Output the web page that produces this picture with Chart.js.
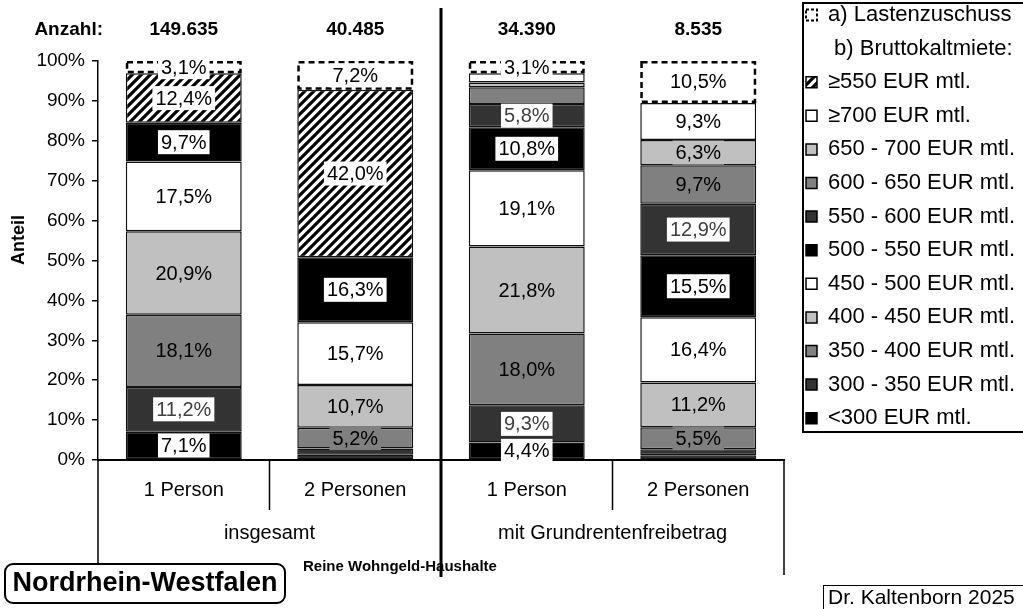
<!DOCTYPE html>
<html><head><meta charset="utf-8">
<script src="https://cdn.jsdelivr.net/npm/chart.js@4.4.1/dist/chart.umd.min.js"></script>
<style>html,body{margin:0;padding:0;background:#fff;overflow:hidden}</style>
</head><body>
<canvas id="c" width="1023" height="609"></canvas>
<script>
// ---------- data ----------
const categories = ['1 Person', '2 Personen', '1 Person', '2 Personen'];
const groups = ['insgesamt', 'mit Grundrentenfreibetrag'];
const counts = ['149.635', '40.485', '34.390', '8.535'];
const yTickValues = [0, 10, 20, 30, 40, 50, 60, 70, 80, 90, 100];

const rentLt300   = [7.1, 1.3, 4.4, 1.2];
const rent300_350 = [11.2, 1.6, 9.3, 1.5];
const rent350_400 = [18.1, 5.2, 18.0, 5.5];
const rent400_450 = [20.9, 10.7, 21.8, 11.2];
const rent450_500 = [17.5, 15.7, 19.1, 16.4];
const rent500_550 = [9.7, 16.3, 10.8, 15.5];
const rent550_600 = [null, null, 5.8, 12.9];
const rent600_650 = [null, null, 4.2, 9.7];
const rent650_700 = [null, null, 1.2, 6.3];
const rentGe700   = [null, null, 2.3, 9.3];
const rentGe550   = [12.4, 42.0, null, null];
const lastenzuschuss = [3.1, 7.2, 3.1, 10.5];

// ---------- styles ----------
const FONT = '"Liberation Sans", Arial, sans-serif';
const BLACK = '#000000', DARK = '#333333', MID = '#808080', LIGHT = '#c0c0c0', WHITE = '#ffffff';
const LABEL_MIN = 4.3;
const FS = 20;      // main text size
const LFS = 22;     // legend text size

function makeHatch(size) {
  const c = document.createElement('canvas');
  c.width = size; c.height = size;
  const g = c.getContext('2d');
  g.fillStyle = '#fff'; g.fillRect(0, 0, size, size);
  g.strokeStyle = '#000'; g.lineWidth = 3.2; g.lineCap = 'square';
  g.beginPath();
  g.moveTo(-1, size + 1); g.lineTo(size + 1, -1);
  g.moveTo(-size / 2 - 1, size / 2 + 1); g.lineTo(size / 2 + 1, -size / 2 - 1);
  g.moveTo(size / 2 - 1, size * 1.5 + 1); g.lineTo(size * 1.5 + 1, size / 2 - 1);
  g.stroke();
  return document.getElementById('c').getContext('2d').createPattern(c, 'repeat');
}
const hatch = makeHatch(9);

function ds(label, data, color, labelBg, labelColor, extra) {
  return Object.assign({
    label, data, backgroundColor: color, borderColor: '#111', borderWidth: 1.5,
    borderSkipped: false, stack: 's', barPercentage: 0.676, categoryPercentage: 1,
    labelBg, labelColor
  }, extra || {});
}

const datasets = [
  ds('<300 EUR mtl.', rentLt300, BLACK, WHITE, '#000'),
  ds('300 - 350 EUR mtl.', rent300_350, DARK, WHITE, '#404040'),
  ds('350 - 400 EUR mtl.', rent350_400, MID, MID, '#000'),
  ds('400 - 450 EUR mtl.', rent400_450, LIGHT, LIGHT, '#000'),
  ds('450 - 500 EUR mtl.', rent450_500, WHITE, WHITE, '#000'),
  ds('500 - 550 EUR mtl.', rent500_550, BLACK, WHITE, '#000'),
  ds('550 - 600 EUR mtl.', rent550_600, DARK, WHITE, '#404040'),
  ds('600 - 650 EUR mtl.', rent600_650, MID, MID, '#000'),
  ds('650 - 700 EUR mtl.', rent650_700, LIGHT, LIGHT, '#000'),
  ds('≥700 EUR mtl.', rentGe700, WHITE, WHITE, '#000'),
  ds('≥550 EUR mtl.', rentGe550, hatch, WHITE, '#000'),
  ds('a) Lastenzuschuss', lastenzuschuss, WHITE, WHITE, '#000', {borderWidth: 0, dashed: true})
];

const fmt = v => v.toFixed(1).replace('.', ',') + '%';

// ---------- plugins ----------
const LEGEND_W = 239;
const LEGEND_PAD = 11.6;
const legendFix = {
  id: 'legendFix',
  beforeLayout(chart) {
    const lg = chart.legend;
    if (lg && !lg.__patched) {
      const f = lg.fit;
      lg.fit = function () { f.call(this); this.width = LEGEND_W; };
      lg.__patched = true;
    }
  },
  afterLayout(chart) {
    const lg = chart.legend; if (!lg) return;
    const w = lg.width, h = lg.height;
    lg.left = 806 - LEGEND_PAD; lg.right = lg.left + w;
    lg.top = 15 - LFS / 2 - LEGEND_PAD; lg.bottom = lg.top + h;
  }
};

const barLabels = {
  id: 'barLabels',
  afterDatasetsDraw(chart) {
    const ctx = chart.ctx;
    chart.data.datasets.forEach((d, di) => {
      if (!d.dashed) return;
      chart.getDatasetMeta(di).data.forEach((bar, i) => {
        if (d.data[i] == null) return;
        const p = bar.getProps(['x', 'y', 'base', 'width'], true);
        ctx.save();
        ctx.setLineDash([6, 4]);
        ctx.lineWidth = 2.5;
        ctx.strokeStyle = '#000';
        ctx.strokeRect(p.x - p.width / 2 + 1.25, p.y + 1.25, p.width - 2.5, p.base - p.y - 2.5);
        ctx.restore();
      });
    });
    ctx.save();
    ctx.font = FS + 'px ' + FONT;
    ctx.textAlign = 'center';
    ctx.textBaseline = 'middle';
    chart.data.datasets.forEach((d, di) => {
      chart.getDatasetMeta(di).data.forEach((bar, i) => {
        const v = d.data[i];
        if (v == null || (!d.dashed && v < LABEL_MIN)) return;
        const p = bar.getProps(['x', 'y', 'base'], true);
        const cy = (p.y + p.base) / 2;
        const txt = fmt(v);
        const tw = ctx.measureText(txt).width;
        ctx.fillStyle = d.labelBg;
        ctx.fillRect(p.x - tw / 2 - 3, cy - 12, tw + 6, 24);
        ctx.fillStyle = d.labelColor;
        ctx.fillText(txt, p.x, cy + 1);
      });
    });
    ctx.restore();
  }
};

function line(ctx, x1, y1, x2, y2, w) {
  ctx.beginPath(); ctx.lineWidth = w; ctx.strokeStyle = '#000';
  ctx.moveTo(x1, y1); ctx.lineTo(x2, y2); ctx.stroke();
}

const decorations = {
  id: 'decorations',
  afterDraw(chart) {
    const ctx = chart.ctx, xs = chart.scales.x, ca = chart.chartArea;
    const half = (xs.getPixelForValue(1) - xs.getPixelForValue(0)) / 2;
    const mid = xs.getPixelForValue(1) + half;
    ctx.save();
    ctx.fillStyle = '#000';
    ctx.font = 'bold 19px ' + FONT;
    ctx.textBaseline = 'middle';
    ctx.textAlign = 'right';
    ctx.fillText('Anzahl:', 103, 30);
    ctx.textAlign = 'center';
    counts.forEach((c, i) => ctx.fillText(c, xs.getPixelForValue(i), 30));
    line(ctx, ca.left, ca.bottom, ca.left, 575, 1.5);
    line(ctx, ca.right, ca.bottom, ca.right, 575, 1.5);
    line(ctx, xs.getPixelForValue(0) + half, ca.bottom, xs.getPixelForValue(0) + half, 510, 1.5);
    line(ctx, xs.getPixelForValue(2) + half, ca.bottom, xs.getPixelForValue(2) + half, 510, 1.5);
    line(ctx, mid, 8, mid, 577, 3);
    ctx.font = FS + 'px ' + FONT;
    ctx.fillText(groups[0], (ca.left + mid) / 2, 533);
    ctx.fillText(groups[1], (mid + ca.right) / 2, 533);
    ctx.save();
    ctx.translate(19, 240);
    ctx.rotate(-Math.PI / 2);
    ctx.font = 'bold 18px ' + FONT;
    ctx.fillText('Anteil', 0, 0);
    ctx.restore();
    // legend frame
    ctx.lineWidth = 2;
    ctx.strokeStyle = '#000';
    ctx.strokeRect(803, 3, 260, 429);
    // region box (white fill covers the table line)
    ctx.beginPath();
    ctx.roundRect(5, 564, 280, 39, 8);
    ctx.fillStyle = '#fff';
    ctx.fill();
    ctx.lineWidth = 2;
    ctx.stroke();
    ctx.fillStyle = '#000';
    ctx.font = 'bold 27px ' + FONT;
    ctx.fillText('Nordrhein-Westfalen', 145, 584);
    ctx.textAlign = 'left';
    ctx.font = 'bold 15px ' + FONT;
    ctx.fillText('Reine Wohngeld-Haushalte', 303, 567);
    ctx.lineWidth = 1;
    ctx.strokeRect(823.5, 585.5, 220, 30);
    ctx.font = '21px ' + FONT;
    ctx.fillText('Dr. Kaltenborn 2025', 828, 598);
    ctx.restore();
  }
};

Chart.defaults.font.family = FONT;
Chart.defaults.color = '#000';

new Chart(document.getElementById('c'), {
  type: 'bar',
  data: { labels: categories, datasets },
  options: {
    responsive: false,
    animation: false,
    devicePixelRatio: 1,
    layout: { padding: { top: 61, left: 0, right: 0, bottom: 0 } },
    plugins: {
      tooltip: { enabled: false },
      legend: {
        position: 'right',
        align: 'start',
        onClick: null,
        labels: {
          font: { size: LFS, family: FONT },
          color: '#000',
          boxWidth: 11,
          boxHeight: 11,
          padding: LEGEND_PAD,
          generateLabels(chart) {
            const items = chart.data.datasets.map((d, i) => ({
              text: d.label,
              fillStyle: d.backgroundColor,
              strokeStyle: '#000',
              lineWidth: d.dashed ? 2 : 1.5,
              lineDash: d.dashed ? [3, 2] : [],
              hidden: false,
              datasetIndex: i
            })).reverse();
            items.splice(1, 0, {
              text: ' b) Bruttokaltmiete:',
              fillStyle: 'rgba(0,0,0,0)',
              strokeStyle: 'rgba(0,0,0,0)',
              lineWidth: 0,
              hidden: false
            });
            return items;
          }
        }
      }
    },
    scales: {
      x: {
        stacked: true,
        grid: { display: false },
        border: { display: true, color: '#000', width: 2 },
        ticks: { font: { size: FS }, color: '#000', padding: 10 },
        afterFit(s) { s.height = 149; }
      },
      y: {
        stacked: true,
        min: 0, max: 100,
        afterBuildTicks(s) { s.ticks = yTickValues.map(v => ({ value: v })); },
        grid: { display: true, drawOnChartArea: false, drawTicks: true, tickLength: 6, color: '#000', lineWidth: 1.5 },
        border: { display: true, color: '#000', width: 1.5 },
        ticks: { font: { size: 19 }, color: '#000', padding: 7, callback: v => v + '%' },
        afterFit(s) { s.width = 98; }
      }
    }
  },
  plugins: [legendFix, barLabels, decorations]
});
</script>
</body></html>
